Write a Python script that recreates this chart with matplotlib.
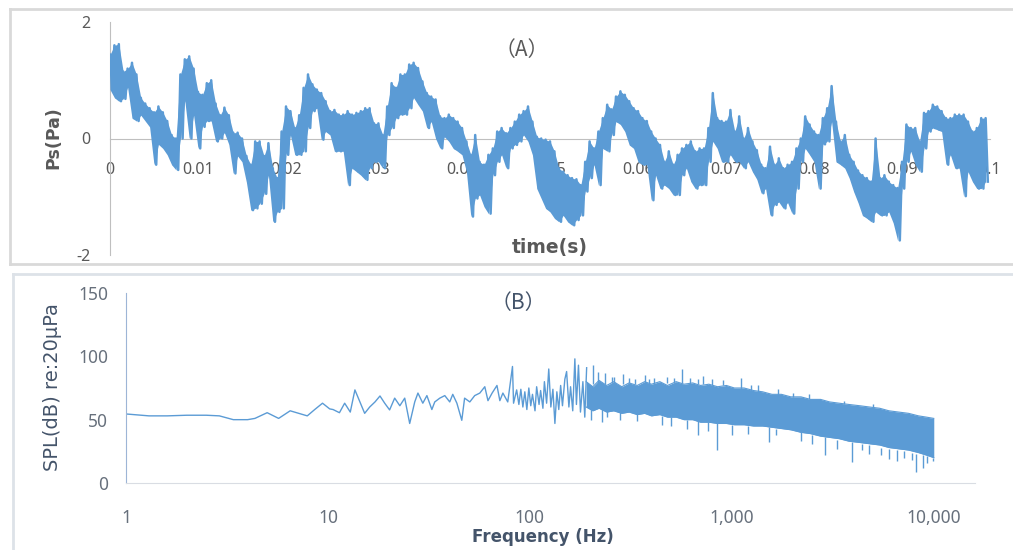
import numpy as np
import matplotlib
matplotlib.use("Agg")
import matplotlib.pyplot as plt
from matplotlib.lines import Line2D

# (A) pressure signal: top / bottom of the trace every 0.5 ms
ps_hi = [1.44, 1.60, 1.62, 1.15, 1.20, 1.30, 1.10, 0.70, 0.60, 0.52,
         0.45, 0.55, 0.45, 0.30, 0.06, 0.00, 1.10, 1.36, 1.41, 1.20,
         0.80, 0.75, 0.95, 1.00, 0.60, 0.40, 0.53, 0.40, 0.10, 0.10,
         0.00, -0.30, -0.45, -0.05, -0.05, -0.30, -0.08, -0.51, -0.68, 0.12,
         0.55, 0.47, 0.18, 0.40, 0.87, 1.10, 0.93, 0.84, 0.78, 0.64,
         0.47, 0.49, 0.41, 0.41, 0.47, 0.41, 0.44, 0.47, 0.52, 0.52,
         0.26, 0.26, 0.06, 0.55, 0.95, 0.87, 1.10, 1.10, 1.27, 1.30,
         1.21, 0.98, 0.78, 0.72, 0.67, 0.38, 0.35, 0.41, 0.35, 0.29,
         0.18, -0.05, -0.28, 0.06, -0.40, -0.45, -0.28, -0.17, 0.12, 0.18,
         0.09, 0.18, 0.29, 0.41, 0.47, 0.55, 0.29, 0.03, 0.00, -0.02,
         -0.05, -0.22, -0.51, -0.57, -0.63, -0.68, -0.70, -0.80, -0.40, -0.05,
         -0.17, 0.12, 0.35, 0.58, 0.50, 0.72, 0.81, 0.75, 0.64, 0.52,
         0.47, 0.35, 0.30, 0.12, 0.00, -0.11, -0.40, -0.22, -0.45, -0.28,
         -0.17, -0.11, -0.05, -0.22, -0.17, -0.17, 0.18, 0.78, 0.35, 0.30,
         0.29, 0.49, 0.12, 0.38, 0.00, 0.18, -0.05, -0.20, -0.45, -0.51,
         -0.14, -0.45, -0.34, -0.51, -0.45, -0.40, -0.17, 0.00, 0.38, 0.24,
         0.12, 0.06, 0.35, 0.52, 0.90, 0.29, -0.05, 0.06, -0.28, -0.40,
         -0.55, -0.63, -0.68, -0.74, 0.00, -0.68, -0.63, -0.74, -0.80, -0.85,
         -0.40, 0.24, 0.18, 0.18, -0.05, 0.44, 0.47, 0.58, 0.55, 0.47,
         0.35, 0.35, 0.41, 0.41, 0.41, 0.29, 0.12, 0.18, 0.35, 0.35]
ps_lo = [0.84, 0.70, 0.64, 0.68, 0.88, 0.35, 0.30, 0.40, 0.30, 0.20,
         -0.45, -0.10, -0.17, -0.28, -0.45, -0.54, 0.00, 0.65, 0.00, 0.40,
         -0.17, 0.20, 0.30, 0.30, -0.05, 0.00, 0.10, -0.10, -0.60, -0.30,
         -0.40, -0.75, -1.23, -1.20, -1.12, -0.95, -0.63, -1.43, -1.26, -1.20,
         -0.28, 0.06, -0.28, -0.28, -0.22, 0.18, 0.47, 0.52, -0.02, 0.12,
         0.06, -0.22, -0.22, -0.22, -0.80, -0.51, -0.57, -0.63, -0.71, -0.51,
         -0.40, -0.40, -0.51, 0.06, 0.18, 0.35, 0.41, 0.41, 0.52, 0.70,
         0.58, 0.47, 0.18, 0.29, 0.00, -0.17, 0.03, -0.05, -0.17, -0.22,
         -0.28, -0.57, -1.34, -1.03, -0.97, -1.17, -1.29, -0.63, -0.40, -0.28,
         -0.51, -0.17, -0.11, -0.05, 0.06, -0.05, -0.28, -0.86, -1.03, -1.20,
         -1.26, -1.37, -1.43, -1.32, -1.43, -1.49, -1.40, -1.32, -0.91, -0.68,
         -0.45, -0.80, -0.17, -0.22, 0.06, 0.29, 0.24, 0.12, -0.11, -0.17,
         -0.40, -0.45, -0.45, -1.06, -0.63, -0.86, -0.80, -0.86, -0.97, -0.97,
         -0.63, -0.51, -0.74, -0.86, -0.80, -0.80, -0.40, -0.05, -0.17, -0.40,
         -0.40, -0.28, -0.40, -0.40, -0.51, -0.40, -0.57, -0.70, -0.94, -0.86,
         -1.32, -1.14, -1.09, -1.20, -1.10, -1.29, -0.86, -0.40, -0.17, -0.28,
         -0.40, -0.86, -0.10, -0.05, 0.29, -0.40, -0.45, -0.51, -0.68, -0.91,
         -1.10, -1.32, -1.37, -1.43, -1.26, -1.32, -1.32, -1.26, -1.45, -1.75,
         -0.86, -0.40, -0.22, -0.45, -0.57, -0.17, 0.12, 0.18, 0.15, 0.12,
         -0.45, -0.28, -0.51, -0.51, -0.99, -0.57, -0.74, -0.86, -0.86, -0.74]
dt = 0.0005
time_ticks = [0, 0.01, 0.02, 0.03, 0.04, 0.05, 0.06, 0.07, 0.08, 0.09, 0.1]
time_labels = ['0', '0.01', '0.02', '0.03', '0.04', '0.05', '0.06', '0.07', '0.08', '0.09', '0.1']

# (B) spectrum, low frequency part as a line
spec_f = [1, 1.3, 1.6, 2.0, 2.5, 2.9, 3.4, 4.0, 4.35, 5.0, 5.7, 6.5, 7.9, 8.6, 9.4,
          10.2, 10.6, 11.4, 12.1, 12.9, 13.6, 14.4, 15.2, 16.1, 17.1, 18.1, 19.1,
          20.2, 21.4, 22.7, 24.0, 25.4, 26.9, 27.9, 29.5, 30.9, 32.7, 33.8, 35.8,
          37.9, 40.1, 41.5, 43.5, 46.0, 47.5, 50.4, 53.3, 56.5, 59.8, 62, 65,
          68.7, 71, 73.5, 77.7, 82, 83, 86,
          88.2, 90.2, 92.3, 94.4, 96.6, 98.8, 101, 103, 106, 108, 111, 113, 116,
          118, 121, 124, 127, 130, 133, 136, 139, 142, 145, 149, 152, 156, 159,
          163, 167, 170, 174, 178, 183, 187, 191]
spec_db = [54.5, 53, 53, 53.5, 53.5, 53, 50, 50, 51, 55.5, 51, 57, 53, 58, 63,
           58.5, 58, 55.5, 63, 56, 73.5, 64, 55, 60, 64, 68.7, 63,
           57.7, 67, 61, 67, 47, 64, 71, 63, 69, 58, 64, 67,
           69, 64, 70, 63, 49.5, 67, 64, 69, 71, 76, 65, 71,
           77, 65, 71, 64, 92, 63, 73.5,
           62, 74, 60, 72, 58, 75, 61, 70, 57, 76, 62, 73, 59,
           80, 63, 90, 60, 74, 47, 72, 58, 77, 61, 82, 88, 60, 76,
           57, 98, 62, 93, 56, 80, 52, 91]

# (B) dense part: band edges
band_f = [190, 205, 220, 240, 260, 285, 310, 340, 370, 400,
          440, 480, 530, 580, 640, 700, 770, 850, 940, 1030,
          1150, 1280, 1420, 1580, 1760, 1960, 2200, 2450, 2750, 3050,
          3400, 3800, 4300, 4800, 5400, 6000, 6700, 7500, 8400, 9200, 10000]
band_hi = [80, 76, 81, 77, 80, 76, 79, 77, 80, 78,
           80, 77, 80, 78, 79, 77, 78, 76, 77, 75,
           75, 73, 72, 70, 70, 68, 68, 66, 66, 64,
           63, 62, 61, 60, 59, 57, 56, 55, 53, 52, 51]
band_lo = [60, 57, 59, 56, 57, 55, 56, 54, 55, 53,
           54, 52, 52, 50, 50, 48, 48, 47, 47, 46,
           46, 45, 45, 44, 43, 42, 40, 39, 37, 36,
           35, 33, 32, 31, 30, 28, 27, 26, 24, 22, 20]

# (B) single spikes out of the band
spike_f = [206, 217, 236, 255, 262, 290, 310, 330, 370, 390, 410, 480, 520, 565,
           620, 680, 720, 800, 900, 1110, 1250, 1350, 1700, 2000, 2400, 3600, 5000,
           200, 228, 242, 280, 340, 450, 500, 600, 680, 760, 840, 1000, 1200, 1530,
           1650, 2200, 2500, 2900, 3300, 3950, 4400, 4800, 5500, 6000, 6600, 7100,
           7800, 8200, 8800, 9300, 9900]
spike_base = [78, 78, 78, 79, 78, 78, 79, 78, 78, 79, 78, 79, 79, 79,
              78, 78, 78, 77, 77, 74, 73, 71, 69, 68, 66, 62, 59,
              60, 59, 58, 57, 55, 53, 52, 50, 49, 48, 47, 46, 45, 44,
              43, 40, 38, 36, 34, 32, 31, 30, 28, 27, 26, 25,
              24, 23, 22, 21, 20]
spike_tip = [93, 88, 87, 84, 84, 86, 83, 82, 85, 82, 83, 84, 83, 90,
             83, 82, 84.5, 82, 81, 83, 77, 77, 74, 71, 70, 65, 62,
             50, 48, 52, 50, 49, 46, 45, 43, 38, 41, 26, 38, 39, 32,
             38, 33, 31, 22, 27, 16.5, 26, 23, 22, 19, 17, 20,
             18, 9, 12, 16, 17]
freq_ticks = [1, 10, 100, 1000, 10000]
freq_labels = ['1', '10', '100', '1,000', '10,000']

blue = '#5B9BD5'
W, H = 1013, 550
plt.rcParams['font.family'] = ['Noto Sans', 'DejaVu Sans']


def box(l, t, r, b):
    return [l / W, 1 - b / H, (r - l) / W, (b - t) / H]


fig = plt.figure(figsize=(W / 100, H / 100), dpi=100)

# chart frames
frame = '#d9d9d9'
fig.add_artist(Line2D([10 / W, 1], [1 - 9 / H] * 2, color=frame, lw=2))
fig.add_artist(Line2D([10 / W] * 2, [1 - 9 / H, 1 - 264 / H], color=frame, lw=2))
fig.add_artist(Line2D([10 / W, 1], [1 - 264 / H] * 2, color=frame, lw=2))
fig.add_artist(Line2D([13 / W, 1], [1 - 274 / H] * 2, color='#dde2e8', lw=2))
fig.add_artist(Line2D([13 / W] * 2, [1 - 274 / H, 0], color='#dde2e8', lw=2))

# ---- (A)
ax1 = fig.add_axes(box(110, 22, 990, 255))
n = len(ps_hi)
t_hi = np.arange(n) * dt
t_lo = t_hi + dt / 2
t = np.empty(2 * n)
t[0::2] = t_hi
t[1::2] = t_lo
ps = np.empty(2 * n)
ps[0::2] = ps_hi
ps[1::2] = ps_lo
ax1.fill_between(t_hi, ps_lo, ps_hi, color=blue, lw=0, zorder=3)
ax1.plot(t, ps, color=blue, lw=1.8, zorder=3)
ax1.set_xlim(0, 0.1)
ax1.set_ylim(-2, 2)
for s in ['top', 'right']:
    ax1.spines[s].set_visible(False)
ax1.spines['bottom'].set_position(('data', 0))
ax1.spines['bottom'].set_color('#bfbfbf')
ax1.spines['left'].set_color('#bfbfbf')
ax1.set_xticks(time_ticks)
ax1.set_xticklabels(time_labels)
ax1.set_yticks([-2, 0, 2])
ax1.set_yticklabels(['-2', '0', '2'])
ax1.tick_params(axis='x', length=0, pad=17, labelsize=11.5, labelcolor='#595959')
ax1.tick_params(axis='y', length=0, pad=14, labelsize=11.5, labelcolor='#595959')
ax1.patch.set_alpha(0)

fig.text(53 / W, 1 - 138 / H, 'Ps(Pa)', rotation=90, ha='center', va='center',
         fontsize=12.5, fontweight='bold', family='DejaVu Sans', color='#595959')
fig.text(550 / W, 1 - 247 / H, 'time(s)', ha='center', va='center',
         fontsize=13.5, fontweight='bold', family='DejaVu Sans', color='#595959')
fig.text(522 / W, 1 - 50 / H, '（A）', ha='center', va='center',
         fontsize=15, family='Noto Sans CJK SC', color='#595959')

# ---- (B)
ax2 = fig.add_axes(box(126, 293, 975, 483))
ax2.set_xscale('log')
ax2.plot(spec_f, spec_db, color=blue, lw=1.0)
ax2.fill_between(band_f, band_lo, band_hi, color=blue, lw=0)
ax2.plot(band_f, band_hi, color=blue, lw=0.8)
ax2.plot(band_f, band_lo, color=blue, lw=0.8)
ax2.vlines(spike_f, spike_base, spike_tip, color=blue, lw=1.0)
ax2.set_xlim(1, 16000)
ax2.set_ylim(0, 150)
for s in ['top', 'right']:
    ax2.spines[s].set_visible(False)
ax2.spines['bottom'].set_color('#d9dde3')
ax2.spines['left'].set_color('#9db5d6')
ax2.set_xticks(freq_ticks)
ax2.set_xticklabels(freq_labels)
ax2.minorticks_off()
ax2.set_yticks([0, 50, 100, 150])
ax2.tick_params(axis='x', length=0, pad=19, labelsize=12.5, labelcolor='#67707c')
ax2.tick_params(axis='y', length=0, pad=13, labelsize=12.5, labelcolor='#67707c')
ax2.patch.set_alpha(0)

fig.text(53 / W, 1 - 387 / H, 'SPL(dB) re:20μPa', rotation=90, ha='center', va='center',
         fontsize=14, family='DejaVu Sans', color='#44546A')
fig.text(543 / W, 1 - 537 / H, 'Frequency (Hz)', ha='center', va='center',
         fontsize=12, fontweight='bold', family='DejaVu Sans', color='#44546A')
fig.text(518 / W, 1 - 303 / H, '（B）', ha='center', va='center',
         fontsize=15, family='Noto Sans CJK SC', color='#44546A')

fig.savefig('out.png', dpi=100)
